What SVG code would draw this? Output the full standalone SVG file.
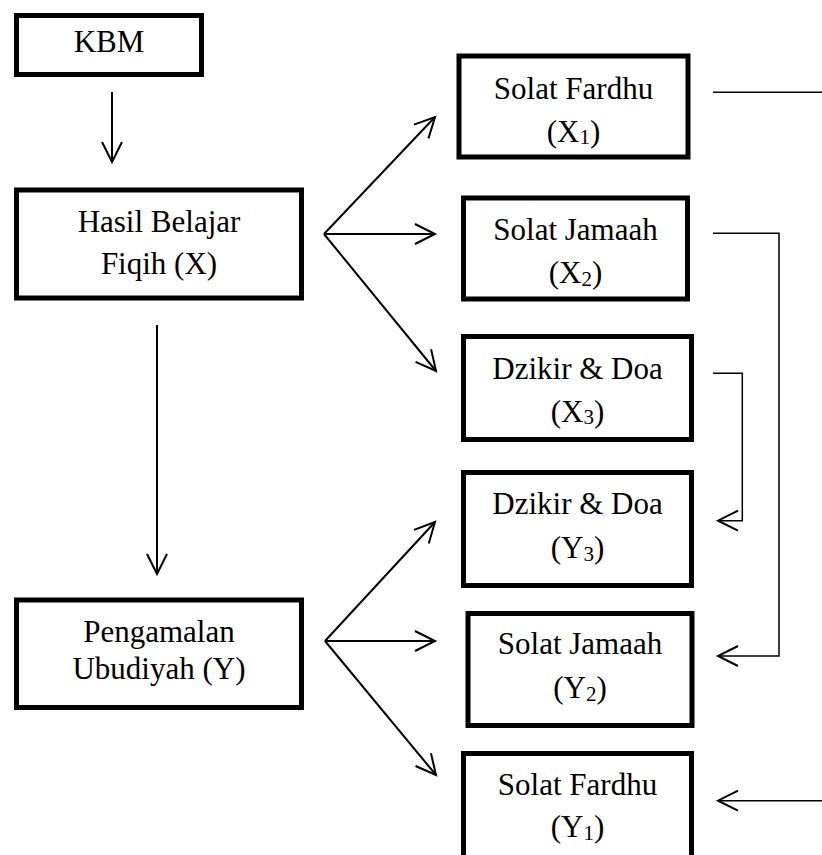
<svg xmlns="http://www.w3.org/2000/svg" width="822" height="855" viewBox="0 0 822 855">
<style>
.box{fill:#fff;stroke:#000;stroke-width:5}
.t{font-family:"Liberation Serif","Times New Roman",serif;font-size:31px;fill:#000;text-anchor:middle}
.sub{font-size:21px}
.c{fill:none;stroke:#000;stroke-width:2}
.thin{fill:none;stroke:#000;stroke-width:1.5}
</style>
<defs>
<marker id="ah" markerUnits="userSpaceOnUse" markerWidth="30" markerHeight="30" viewBox="-25 -15 30 30" refX="0" refY="0" orient="auto" overflow="visible">
<path d="M-20,-10 L0,0 L-20,10" fill="none" stroke="#000" stroke-width="2"/>
</marker>
</defs>
<rect width="822" height="855" fill="#fff"/>
<g id="connectors">
<line class="c" x1="112" y1="92" x2="112" y2="162" marker-end="url(#ah)"/>
<line class="c" x1="157" y1="325" x2="157" y2="574" marker-end="url(#ah)"/>
<line class="c" x1="324" y1="234" x2="435" y2="117" marker-end="url(#ah)"/>
<line class="c" x1="324" y1="234" x2="435" y2="234" marker-end="url(#ah)"/>
<line class="c" x1="324" y1="234" x2="436" y2="371" marker-end="url(#ah)"/>
<line class="c" x1="325" y1="641" x2="435" y2="522" marker-end="url(#ah)"/>
<line class="c" x1="325" y1="641" x2="435" y2="641" marker-end="url(#ah)"/>
<line class="c" x1="325" y1="641" x2="436" y2="775" marker-end="url(#ah)"/>
<line class="thin" x1="713" y1="92.3" x2="822" y2="92.3"/>
<polyline class="thin" points="713,233.3 779,233.3 779,656 718,656" marker-end="url(#ah)"/>
<polyline class="thin" points="713,373.3 742.3,373.3 742.3,520.7 718,520.7" marker-end="url(#ah)"/>
<line class="thin" x1="822" y1="800.7" x2="718" y2="800.7" marker-end="url(#ah)"/>
</g>
<g id="kbm">
<rect class="box" x="16.5" y="15.5" width="185" height="59"/>
<text class="t" x="109" y="52">KBM</text>
</g>
<g id="hasil">
<rect class="box" x="16.5" y="190" width="285" height="108"/>
<text class="t" x="159" y="232">Hasil Belajar</text>
<text class="t" x="159" y="274">Fiqih (X)</text>
</g>
<g id="pengamalan">
<rect class="box" x="16.5" y="600" width="285" height="107.5"/>
<text class="t" x="159" y="642">Pengamalan</text>
<text class="t" x="159" y="679">Ubudiyah (Y)</text>
</g>
<g id="x1">
<rect class="box" x="459" y="56" width="229" height="101"/>
<text class="t" x="573.5" y="99">Solat Fardhu</text>
<text class="t" x="573.5" y="141.7">(X<tspan class="sub" dy="2.5">1</tspan><tspan dy="-2.5">)</tspan></text>
</g>
<g id="x2">
<rect class="box" x="463.5" y="198" width="224" height="101"/>
<text class="t" x="575.5" y="239.5">Solat Jamaah</text>
<text class="t" x="575.5" y="283">(X<tspan class="sub" dy="2.5">2</tspan><tspan dy="-2.5">)</tspan></text>
</g>
<g id="x3">
<rect class="box" x="463.5" y="336.5" width="228" height="103"/>
<text class="t" x="577.5" y="378.5">Dzikir &amp; Doa</text>
<text class="t" x="577.5" y="421.7">(X<tspan class="sub" dy="2.5">3</tspan><tspan dy="-2.5">)</tspan></text>
</g>
<g id="y3">
<rect class="box" x="463.5" y="472.5" width="228" height="113"/>
<text class="t" x="577.5" y="513.5">Dzikir &amp; Doa</text>
<text class="t" x="577.5" y="558">(Y<tspan class="sub" dy="2.5">3</tspan><tspan dy="-2.5">)</tspan></text>
</g>
<g id="y2">
<rect class="box" x="468" y="613.5" width="224" height="112"/>
<text class="t" x="580" y="654">Solat Jamaah</text>
<text class="t" x="580" y="698.3">(Y<tspan class="sub" dy="2.5">2</tspan><tspan dy="-2.5">)</tspan></text>
</g>
<g id="y1">
<rect class="box" x="463.5" y="753.5" width="228" height="110"/>
<text class="t" x="577.5" y="795">Solat Fardhu</text>
<text class="t" x="577.5" y="837">(Y<tspan class="sub" dy="2.5">1</tspan><tspan dy="-2.5">)</tspan></text>
</g>
</svg>
